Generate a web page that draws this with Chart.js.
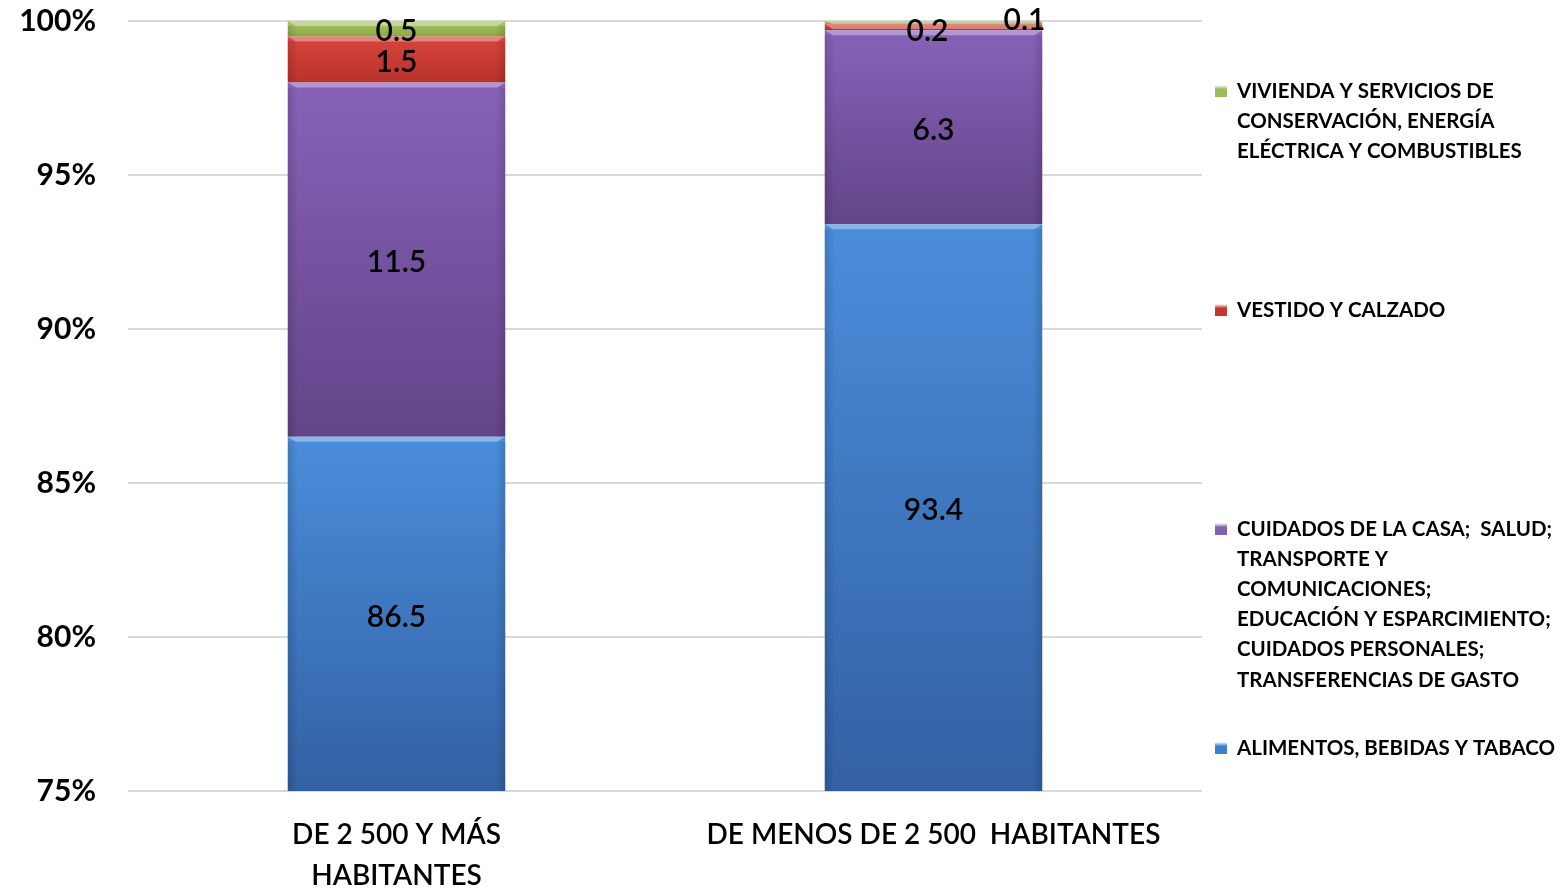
<!DOCTYPE html>
<html>
<head>
<meta charset="utf-8">
<script src="https://cdn.jsdelivr.net/npm/chart.js@4.4.0/dist/chart.umd.min.js"></script>
<style>
  html, body { margin: 0; padding: 0; background: #fff; }
  #wrap { width: 1568px; height: 893px; position: relative; }
</style>
</head>
<body>
<div id="wrap"><canvas id="chart" width="1568" height="893"></canvas></div>
<script>
const categories = [['DE 2 500 Y MÁS', 'HABITANTES'], 'DE MENOS DE 2 500  HABITANTES'];
const seriesNames = [
  'ALIMENTOS, BEBIDAS Y TABACO',
  'CUIDADOS DE LA CASA;  SALUD; TRANSPORTE Y COMUNICACIONES; EDUCACIÓN Y ESPARCIMIENTO; CUIDADOS PERSONALES; TRANSFERENCIAS DE GASTO',
  'VESTIDO Y CALZADO',
  'VIVIENDA Y SERVICIOS DE CONSERVACIÓN, ENERGÍA ELÉCTRICA Y COMBUSTIBLES',
];
const alimentos = [86.5, 93.4];
const cuidados = [11.5, 6.3];
const vestido = [1.5, 0.2];
const vivienda = [0.5, 0.1];
const yTicks = [75, 80, 85, 90, 95, 100];

// legend text as it wraps in the picture, top to bottom
const legendLines = [
  ['VIVIENDA Y SERVICIOS DE', 'CONSERVACIÓN, ENERGÍA', 'ELÉCTRICA Y COMBUSTIBLES'],
  ['VESTIDO Y CALZADO'],
  ['CUIDADOS DE LA CASA;  SALUD;', 'TRANSPORTE Y', 'COMUNICACIONES;', 'EDUCACIÓN Y ESPARCIMIENTO;', 'CUIDADOS PERSONALES;', 'TRANSFERENCIAS DE GASTO'],
  ['ALIMENTOS, BEBIDAS Y TABACO'],
];
const legendTops = [91, 310, 529, 748];
const legendSwatch = ['#9bbb59', '#c0392b', '#8060b0', '#3f7fcf'];

const palettes = [
  ['#4a8ddb', '#3361a3'],
  ['#8862b8', '#634489'],
  ['#d8453c', '#b8322b'],
  ['#a9c862', '#8aa848'],
];

function barFill(index) {
  return (ctx) => {
    const chart = ctx.chart;
    const y = chart.scales.y;
    if (!chart.chartArea || !y || ctx.dataIndex === undefined) return palettes[index][0];
    let start = 0;
    for (let k = 0; k < index; k++) start += chart.data.datasets[k].data[ctx.dataIndex];
    const end = start + chart.data.datasets[index].data[ctx.dataIndex];
    const top = y.getPixelForValue(Math.min(end, y.max));
    const bottom = y.getPixelForValue(Math.max(start, y.min));
    if (!isFinite(top) || !isFinite(bottom) || bottom - top < 1) return palettes[index][0];
    const g = chart.ctx.createLinearGradient(0, top, 0, bottom);
    g.addColorStop(0, palettes[index][0]);
    g.addColorStop(1, palettes[index][1]);
    return g;
  };
}

const bevelPlugin = {
  id: 'bevel',
  afterDatasetsDraw(chart) {
    const c = chart.ctx;
    const a = chart.chartArea;
    c.save();
    c.beginPath();
    c.rect(a.left, a.top, a.right - a.left, a.bottom - a.top);
    c.clip();
    chart.data.datasets.forEach((ds, i) => {
      chart.getDatasetMeta(i).data.forEach((bar) => {
        const top = Math.min(bar.y, bar.base);
        const bottom = Math.min(Math.max(bar.y, bar.base), a.bottom);
        const h = bottom - top;
        const left = bar.x - bar.width / 2;
        const right = bar.x + bar.width / 2;
        // light top edge
        const bh = Math.min(5, h);
        c.fillStyle = 'rgba(255,255,255,0.35)';
        c.beginPath();
        c.moveTo(left, top);
        c.lineTo(right, top);
        c.lineTo(right - 8, top + bh);
        c.lineTo(left + 8, top + bh);
        c.closePath();
        c.fill();
        // darker side edges
        const sg = c.createLinearGradient(left, 0, left + 10, 0);
        sg.addColorStop(0, 'rgba(0,0,0,0.14)');
        sg.addColorStop(1, 'rgba(0,0,0,0)');
        c.fillStyle = sg;
        c.fillRect(left, top + bh, 10, h - bh);
        const sg2 = c.createLinearGradient(right - 10, 0, right, 0);
        sg2.addColorStop(0, 'rgba(0,0,0,0)');
        sg2.addColorStop(1, 'rgba(0,0,0,0.14)');
        c.fillStyle = sg2;
        c.fillRect(right - 10, top + bh, 10, h - bh);
      });
    });
    c.restore();
  },
};

// value labels; small segments get nudged like in the picture
const labelNudge = { '2-1': [-6, 1], '3-1': [91, -5], '3-0': [0, 0], '2-0': [0, 0] };
const valueLabels = {
  id: 'valueLabels',
  afterDatasetsDraw(chart) {
    const c = chart.ctx;
    const a = chart.chartArea;
    c.save();
    c.font = '600 30px Lato';
    c.fillStyle = '#000';
    c.textAlign = 'center';
    c.textBaseline = 'middle';
    chart.data.datasets.forEach((ds, i) => {
      chart.getDatasetMeta(i).data.forEach((bar, j) => {
        const n = labelNudge[i + '-' + j] || [0, 0];
        const base = Math.min(bar.base, a.bottom);
        const y = (bar.y + base) / 2 + 3;
        c.fillText(ds.data[j].toFixed(1), bar.x + n[0], y + n[1]);
      });
    });
    c.restore();
  },
};

const sideLegend = {
  id: 'sideLegend',
  afterDraw(chart) {
    const c = chart.ctx;
    c.save();
    c.font = 'bold 20.5px Lato';
    c.textBaseline = 'middle';
    legendLines.forEach((lines, k) => {
      const y0 = legendTops[k];
      const sx = 1215, sy = y0 - 6;
      const g = c.createLinearGradient(0, sy, 0, sy + 12);
      g.addColorStop(0, '#ffffff');
      g.addColorStop(0.35, legendSwatch[k]);
      g.addColorStop(1, legendSwatch[k]);
      c.fillStyle = g;
      c.fillRect(sx, sy, 12, 12);
      c.fillStyle = '#000';
      lines.forEach((t, m) => c.fillText(t, 1237, y0 + m * 30.2));
    });
    c.restore();
  },
};

new Chart(document.getElementById('chart'), {
  type: 'bar',
  data: {
    labels: categories,
    datasets: [
      { label: seriesNames[0], data: alimentos, backgroundColor: barFill(0) },
      { label: seriesNames[1], data: cuidados, backgroundColor: barFill(1) },
      { label: seriesNames[2], data: vestido, backgroundColor: barFill(2) },
      { label: seriesNames[3], data: vivienda, backgroundColor: barFill(3) },
    ],
  },
  options: {
    responsive: false,
    animation: false,
    layout: { padding: { left: 0, right: 366, top: 21, bottom: 0 } },
    datasets: { bar: { categoryPercentage: 1, barPercentage: 0.405, borderWidth: 0 } },
    plugins: { legend: { display: false }, tooltip: { enabled: false } },
    scales: {
      x: {
        stacked: true,
        grid: { display: false, drawTicks: false },
        border: { display: false },
        ticks: { color: '#000', font: { family: 'Lato', size: 28, weight: '600', lineHeight: 1.45 }, padding: 24, maxRotation: 0, autoSkip: false },
        afterFit: (s) => { s.height = 102; s.paddingLeft = 0; s.paddingRight = 0; },
      },
      y: {
        stacked: true,
        min: 75,
        max: 100,
        afterBuildTicks: (s) => { s.ticks = yTicks.map((v) => ({ value: v })); },
        grid: { color: '#d9d9d9', lineWidth: 2, drawTicks: false },
        border: { display: false },
        ticks: { color: '#000', font: { family: 'Lato', size: 30, weight: 'bold' }, padding: 32, callback: (v) => v + '%' },
        afterFit: (s) => { s.width = 128; s.paddingTop = 0; s.paddingBottom = 0; },
      },
    },
  },
  plugins: [bevelPlugin, valueLabels, sideLegend],
});
</script>
</body>
</html>
